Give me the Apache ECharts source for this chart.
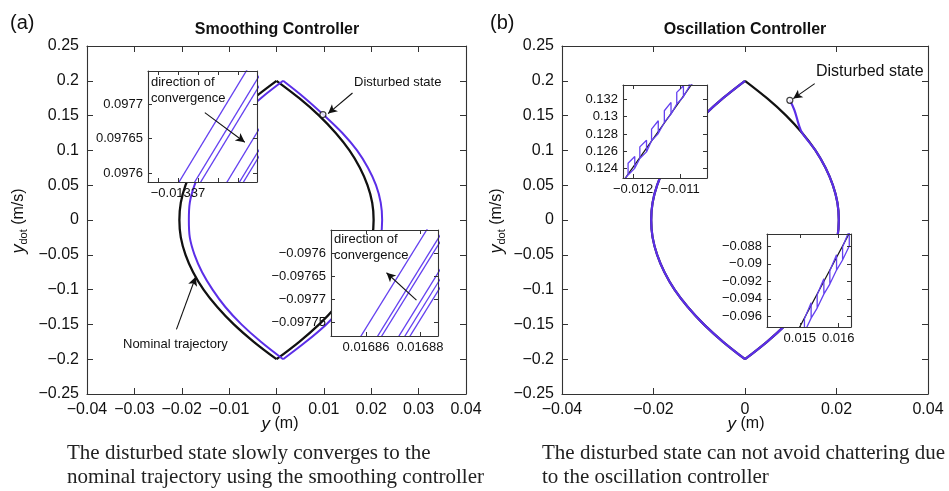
<!DOCTYPE html>
<html>
<head>
<meta charset="utf-8">
<script src="https://cdn.jsdelivr.net/npm/echarts@6/dist/echarts.min.js"></script>
<style>
  html, body { margin: 0; padding: 0; background: #fff; }
  #chart { width: 949px; height: 491px; }
</style>
</head>
<body>
<div id="chart"></div>
<script>
// nominal trajectory, y read top to bottom, x for right and left branches
const nomY = [0.2, 0.175, 0.15, 0.125, 0.1, 0.075, 0.05, 0.025, 0, -0.025, -0.05, -0.075, -0.1, -0.125, -0.15, -0.175, -0.2];
const nomRightX = [0, 0.0048, 0.009, 0.0125, 0.0154, 0.0176, 0.0192, 0.0202, 0.0205, 0.0202, 0.0192, 0.0176, 0.0154, 0.0125, 0.009, 0.0048, 0];
const nomLeftX = [0, -0.0048, -0.009, -0.0125, -0.0154, -0.0176, -0.0192, -0.0202, -0.0205, -0.0202, -0.0192, -0.0176, -0.0154, -0.0125, -0.009, -0.0048, 0];

// (a) disturbed trajectory, same y list
const smoothRightX = [0.0014, 0.006, 0.0101, 0.0139, 0.017, 0.0193, 0.021, 0.022, 0.0223, 0.022, 0.021, 0.0193, 0.017, 0.014, 0.0105, 0.0062, 0.0014];
const smoothLeftX = [0.0014, -0.0033, -0.0074, -0.0107, -0.0135, -0.0157, -0.0173, -0.0183, -0.0185, -0.0183, -0.0173, -0.0157, -0.0135, -0.0108, -0.0074, -0.0033, 0.0014];
const smoothState = [0.0098, 0.1515];

// (b) disturbed state and its way onto the nominal curve
const oscState = [0.0098, 0.172];
const oscStartX = [0.0098, 0.0108, 0.0118, 0.0125];
const oscStartY = [0.172, 0.158, 0.136, 0.125];

// inset (a) upper left: passes of the disturbed trajectory [x0, y0, x1, y1]
const zoomA1Lines = [
  [-0.0133736, 0.09755, -0.0133475, 0.0978],
  [-0.0133697, 0.09755, -0.0133435, 0.0978],
  [-0.0133682, 0.09755, -0.013342, 0.0978],
  [-0.0133616, 0.09755, -0.0133355, 0.0978],
  [-0.0133585, 0.09755, -0.0133323, 0.0978],
  [-0.0133575, 0.09755, -0.0133313, 0.0978],
];
// inset (a) lower right
const zoomA2Lines = [
  [0.0168559, -0.0978, 0.0168878, -0.0975],
  [0.0168621, -0.0978, 0.016894, -0.0975],
  [0.0168636, -0.0978, 0.0168955, -0.0975],
  [0.01687, -0.0978, 0.0169019, -0.0975],
  [0.0168722, -0.0978, 0.0169041, -0.0975],
  [0.0168741, -0.0978, 0.016906, -0.0975],
];

// inset (b) upper left: nominal piece and chattering path
const zoomB1NomX = [-0.0123, -0.0106];
const zoomB1NomY = [0.12186, 0.13491];
const zoomB1ChatX = [-0.01225,
  -0.012106, -0.012106, -0.011964, -0.011964, -0.012106, -0.011964,
  -0.011856, -0.011856, -0.011714, -0.011714, -0.011856, -0.011714,
  -0.011607, -0.011607, -0.011464, -0.011464, -0.011607, -0.011464,
  -0.011335, -0.011335, -0.011193, -0.011193, -0.011335, -0.011193,
  -0.011071, -0.011071, -0.010929, -0.010929, -0.011071, -0.010929,
  -0.010807, -0.010807, -0.010664, -0.010664, -0.010807, -0.010664];
const zoomB1ChatY = [0.1223,
  0.123262, 0.124615, 0.125387, 0.124035, 0.123262, 0.124035,
  0.125156, 0.126508, 0.127281, 0.125928, 0.125156, 0.125928,
  0.127204, 0.128557, 0.129523, 0.128054, 0.127204, 0.128054,
  0.129329, 0.130682, 0.131648, 0.130296, 0.129329, 0.130296,
  0.131455, 0.132808, 0.133581, 0.132305, 0.131455, 0.132305,
  0.133465, 0.134817, 0.13559, 0.134238, 0.133465, 0.134238];

// inset (b) lower right
const zoomB2NomX = [0.0149, 0.0164];
const zoomB2NomY = [-0.09801, -0.08556];
const zoomB2ChatX = [0.01512, 0.01512, 0.015294, 0.015294, 0.01512, 0.015294,
  0.015451, 0.015451, 0.015625, 0.015625, 0.015451, 0.015625,
  0.015781, 0.015781, 0.015955, 0.015955, 0.015781, 0.015955,
  0.016112, 0.016112, 0.016286, 0.016286, 0.016112, 0.016286];
const zoomB2ChatY = [-0.097795, -0.096271, -0.094447, -0.096199, -0.097795, -0.096199,
  -0.095049, -0.093525, -0.091696, -0.093449, -0.095049, -0.093449,
  -0.092302, -0.090778, -0.08895, -0.090702, -0.092302, -0.090702,
  -0.089555, -0.088031, -0.086203, -0.087955, -0.089555, -0.087955];

// tick values of the insets
const a1XTicks = [-0.013375, -0.01337, -0.013365, -0.01336, -0.013355];
const a1XLabels = [-0.01337];
const a1YTicks = [0.0976, 0.09765, 0.0977];
const a2XTicks = [0.01686, 0.01688];
const a2YTicks = [-0.0976, -0.09765, -0.0977, -0.09775];
const b1XTicks = [-0.012, -0.011];
const b1YTicks = [0.124, 0.126, 0.128, 0.13, 0.132];
const b2XTicks = [0.015, 0.016];
const b2YTicks = [-0.096, -0.094, -0.092, -0.09, -0.088];

const fontSans = "'Liberation Sans', Arial, Helvetica, sans-serif";
const fontSerif = "'Liberation Serif', 'Times New Roman', serif";
const axisColor = "#333";
const blue = "#5b2ee8";
const blueThin = "#6440f0";

function fmt(v) {
  return String(parseFloat(v.toPrecision(6))).replace("-", "\u2212");
}
function pairs(xs, ys) {
  return xs.map((x, i) => [x, ys[i]]);
}

const xAxes = [];
const yAxes = [];
function axis(g, c, pos, showLabel, inset) {
  const a = {
    type: "value",
    gridIndex: g,
    position: pos,
    min: c.min,
    max: c.max,
    z: inset ? 6 : 0,
    axisLine: { show: true, onZero: false, lineStyle: { color: axisColor, width: 1.1 } },
    splitLine: { show: false },
    axisTick: { show: true, inside: true, length: inset ? 4 : 6, lineStyle: { color: axisColor } },
    axisLabel: {
      show: showLabel,
      formatter: fmt,
      color: "#111",
      fontFamily: fontSans,
      fontSize: inset ? 13 : 16,
      margin: inset ? 5 : 8,
    },
  };
  if (c.interval) a.interval = c.interval;
  if (c.ticks) {
    a.axisTick.customValues = c.ticks;
    a.axisLabel.customValues = c.labels || c.ticks;
  }
  return a;
}
function addAxes(g, xc, yc, inset) {
  xAxes.push(axis(g, xc, "bottom", true, inset));
  xAxes.push(axis(g, xc, "top", false, inset));
  yAxes.push(axis(g, yc, "left", true, inset));
  yAxes.push(axis(g, yc, "right", false, inset));
}

const grids = [
  { left: 87, top: 46, width: 379, height: 348 },
  { left: 562, top: 46, width: 366, height: 348 },
  { left: 148, top: 71, width: 109, height: 111 },
  { left: 331, top: 230, width: 107, height: 106 },
  { left: 623, top: 85, width: 84, height: 93 },
  { left: 767, top: 234, width: 84, height: 93 },
];
grids.forEach((g, i) => {
  g.containLabel = false;
  if (i >= 2) {
    g.show = true;
    g.backgroundColor = "#fff";
    g.borderWidth = 0;
    g.z = 3;
  }
});

addAxes(0, { min: -0.04, max: 0.04, interval: 0.01 }, { min: -0.25, max: 0.25, interval: 0.05 }, false);
addAxes(1, { min: -0.04, max: 0.04, interval: 0.02 }, { min: -0.25, max: 0.25, interval: 0.05 }, false);
addAxes(2, { min: -0.0133775, max: -0.01335025, ticks: a1XTicks, labels: a1XLabels }, { min: 0.097587, max: 0.097748, ticks: a1YTicks }, true);
addAxes(3, { min: 0.016847, max: 0.0168867, ticks: a2XTicks }, { min: -0.097779, max: -0.09755, ticks: a2YTicks }, true);
addAxes(4, { min: -0.012214, max: -0.010428, ticks: b1XTicks }, { min: 0.12291, max: 0.133658, ticks: b1YTicks }, true);
addAxes(5, { min: 0.014146, max: 0.016331, ticks: b2XTicks }, { min: -0.09721, max: -0.08658, ticks: b2YTicks }, true);

function line(g, data, color, width, z) {
  return {
    type: "line",
    xAxisIndex: g * 2,
    yAxisIndex: g * 2,
    data: data,
    symbol: "none",
    smooth: g < 2 ? 0.35 : false,
    lineStyle: { color: color, width: width },
    z: z,
    silent: true,
  };
}
function arrow(from, to) {
  return [{ coord: from }, { coord: to }];
}
const arrowLine = {
  silent: true,
  symbol: ["none", "arrow"],
  symbolSize: [7, 9],
  label: { show: false },
  lineStyle: { color: "#111", width: 1.1, type: "solid" },
};

const series = [];
// (a) main
series.push(line(0, pairs(nomRightX, nomY), "#111", 2.3, 1));
series.push(line(0, pairs(nomLeftX, nomY), "#111", 2.3, 1));
series.push(line(0, pairs(smoothRightX, nomY), blue, 2, 1));
series.push(line(0, pairs(smoothLeftX, nomY), blue, 2, 1));
series.push({
  type: "scatter",
  xAxisIndex: 0,
  yAxisIndex: 0,
  data: [smoothState],
  symbol: "circle",
  symbolSize: 6,
  itemStyle: { color: "#fff", borderColor: "#111", borderWidth: 1.2 },
  z: 2,
  silent: true,
  markLine: Object.assign({}, arrowLine, {
    data: [arrow([0.01604, 0.1825], [0.01089, 0.1529]), arrow([-0.02112, -0.1571], [-0.01705, -0.0816])],
  }),
});
// (b) main
const oscRight = pairs(oscStartX, oscStartY).concat(pairs(nomRightX, nomY).slice(4));
series.push(line(1, pairs(nomRightX, nomY), "#111", 2.2, 1));
series.push(line(1, pairs(nomLeftX, nomY), "#111", 2.2, 1));
series.push(line(1, oscRight, blue, 2.2, 1));
series.push(line(1, pairs(nomLeftX, nomY), blue, 2.2, 1));
series.push({
  type: "scatter",
  xAxisIndex: 2,
  yAxisIndex: 2,
  data: [oscState],
  symbol: "circle",
  symbolSize: 6,
  itemStyle: { color: "#fff", borderColor: "#111", borderWidth: 1.2 },
  z: 2,
  silent: true,
  markLine: Object.assign({}, arrowLine, { data: [arrow([0.01523, 0.196], [0.01055, 0.1744])] }),
});
// insets (a)
zoomA1Lines.forEach((l) => series.push(line(2, [[l[0], l[1]], [l[2], l[3]]], blueThin, 1.3, 4)));
zoomA2Lines.forEach((l) => series.push(line(3, [[l[0], l[1]], [l[2], l[3]]], blueThin, 1.3, 4)));
series[series.length - 7].markLine = Object.assign({}, arrowLine, {
  data: [arrow([-0.0133633, 0.0976876], [-0.0133533, 0.0976447])],
});
series[series.length - 1].markLine = Object.assign({}, arrowLine, {
  data: [arrow([0.0168787, -0.0977015], [0.0168676, -0.0976424])],
});
// insets (b)
series.push(line(4, pairs(zoomB1NomX, zoomB1NomY), "#111", 1.2, 4));
series.push(line(4, pairs(zoomB1ChatX, zoomB1ChatY), blueThin, 1.3, 4));
series.push(line(5, pairs(zoomB2NomX, zoomB2NomY), "#111", 1.2, 4));
series.push(line(5, pairs(zoomB2ChatX, zoomB2ChatY), blueThin, 1.3, 4));

function txt(x, y, text, size, extra) {
  return {
    type: "text",
    x: x,
    y: y,
    z: 100,
    silent: true,
    style: Object.assign(
      { text: text, fontFamily: fontSans, fontSize: size, fill: "#111", align: "left", verticalAlign: "middle" },
      extra || {}
    ),
  };
}
const yNameRich = {
  v: { fontStyle: "italic", fontSize: 18, lineHeight: 20, fontFamily: fontSans },
  s: { fontSize: 11, lineHeight: 11, verticalAlign: "bottom", fontFamily: fontSans },
};
const xNameRich = { v: { fontStyle: "italic", fontSize: 17, fontFamily: fontSans } };

const graphic = [
  txt(10, 23, "(a)", 20),
  txt(490, 23, "(b)", 20),
  txt(277, 30, "Smoothing Controller", 16, { align: "center", fontWeight: "bold" }),
  txt(745, 30, "Oscillation Controller", 16, { align: "center", fontWeight: "bold" }),
  txt(354, 82, "Disturbed state", 13),
  txt(816, 72, "Disturbed state", 16),
  txt(123, 344, "Nominal trajectory", 13),
  txt(151, 74, "direction of\nconvergence", 13, { verticalAlign: "top", lineHeight: 16.5 }),
  txt(334, 231, "direction of\nconvergence", 13, { verticalAlign: "top", lineHeight: 16 }),
  Object.assign(txt(19, 221, "{v|y}{s|dot} (m/s)", 16, { align: "center", rich: yNameRich }), { rotation: Math.PI / 2 }),
  Object.assign(txt(497, 221, "{v|y}{s|dot} (m/s)", 16, { align: "center", rich: yNameRich }), { rotation: Math.PI / 2 }),
  txt(280, 424, "{v|y} (m)", 16, { align: "center", rich: xNameRich }),
  txt(746, 424, "{v|y} (m)", 16, { align: "center", rich: xNameRich }),
  txt(67, 453, "The disturbed state slowly converges to the", 21, { fontFamily: fontSerif, fill: "#222" }),
  txt(67, 477, "nominal trajectory using the smoothing controller", 21, { fontFamily: fontSerif, fill: "#222" }),
  txt(542, 453, "The disturbed state can not avoid chattering due", 21, { fontFamily: fontSerif, fill: "#222" }),
  txt(542, 477, "to the oscillation controller", 21, { fontFamily: fontSerif, fill: "#222" }),
];

const myChart = echarts.init(document.getElementById("chart"));
myChart.setOption({
  animation: false,
  backgroundColor: "#fff",
  grid: grids,
  xAxis: xAxes,
  yAxis: yAxes,
  series: series,
  graphic: graphic,
});
</script>
</body>
</html>
